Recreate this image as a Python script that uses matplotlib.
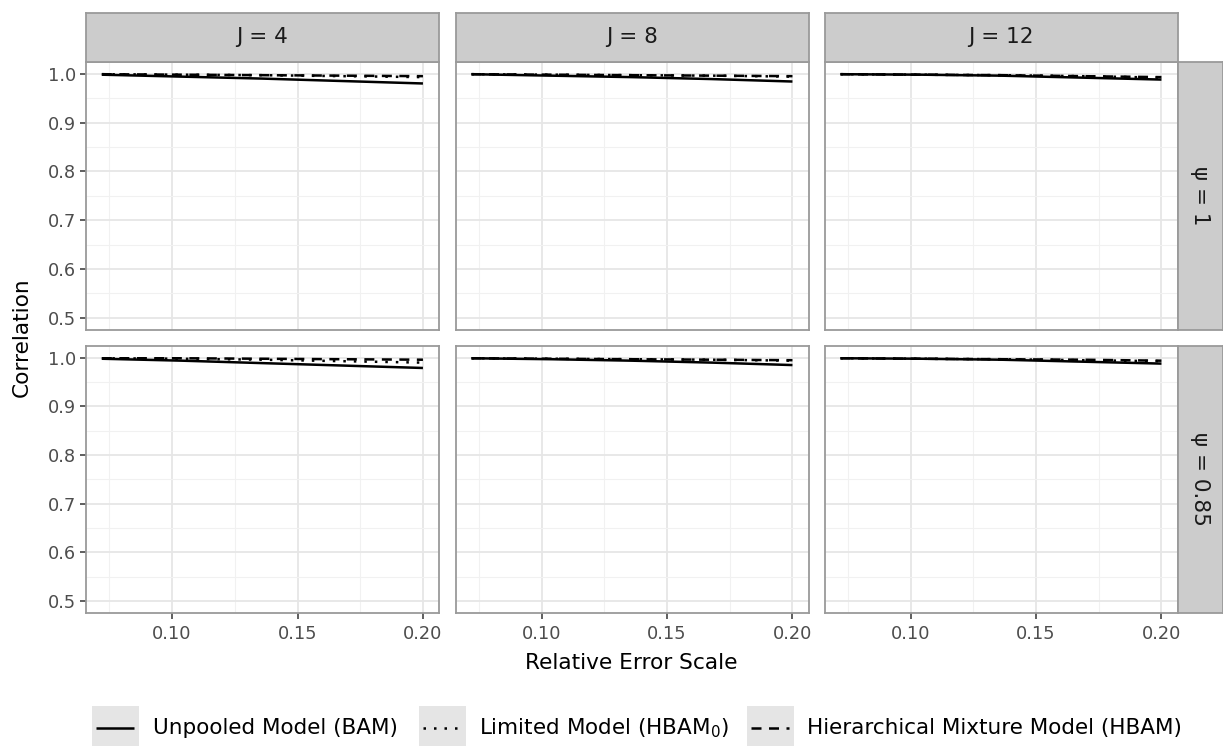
import matplotlib
matplotlib.use('Agg')
import matplotlib.pyplot as plt
from matplotlib.patches import Rectangle
from matplotlib.lines import Line2D

plt.rcParams['font.family'] = ['DejaVu Sans']
plt.rcParams['mathtext.fontset'] = 'dejavusans'

# данные: ось x общая для всех панелей
error_scale = [0.072, 0.104, 0.136, 0.168, 0.2]

col_labels = ['J = 4', 'J = 8', 'J = 12']
row_labels = ['ψ = 1', 'ψ = 0.85']

# строки: psi = 1, psi = 0.85; столбцы: J = 4, 8, 12
bam = [
    [[0.998, 0.994, 0.990, 0.985, 0.980],
     [0.999, 0.996, 0.993, 0.989, 0.984],
     [0.999, 0.998, 0.996, 0.992, 0.988]],
    [[0.998, 0.994, 0.989, 0.984, 0.979],
     [0.999, 0.997, 0.994, 0.990, 0.985],
     [0.999, 0.998, 0.996, 0.992, 0.988]],
]
hbam0 = [
    [[0.999, 0.998, 0.997, 0.995, 0.993],
     [0.999, 0.998, 0.997, 0.996, 0.994],
     [0.999, 0.998, 0.997, 0.995, 0.992]],
    [[0.999, 0.998, 0.996, 0.993, 0.990],
     [0.999, 0.998, 0.997, 0.996, 0.994],
     [0.999, 0.998, 0.997, 0.995, 0.993]],
]
hbam = [
    [[0.999, 0.998, 0.997, 0.996, 0.995],
     [0.999, 0.998, 0.997, 0.996, 0.995],
     [0.999, 0.998, 0.997, 0.995, 0.993]],
    [[0.999, 0.999, 0.998, 0.997, 0.996],
     [0.999, 0.998, 0.997, 0.996, 0.995],
     [0.999, 0.998, 0.997, 0.996, 0.994]],
]

series = [
    ('Unpooled Model (BAM)', bam, (None, None)),
    ('Limited Model (HBAM$_0$)', hbam0, (1, 3.2)),
    ('Hierarchical Mixture Model (HBAM)', hbam, (4, 3)),
]

W, H = 1223, 746
fig = plt.figure(figsize=(W / 100, H / 100), dpi=100)


def box(x0, y0, x1, y1):
    # пиксели (сверху вниз) -> доли фигуры
    return [x0 / W, 1 - y1 / H, (x1 - x0) / W, (y1 - y0) / H]


col_x = [(85.8, 439.0), (455.5, 808.5), (824.5, 1177.5)]
row_y = [(61.8, 329.7), (345.9, 612.8)]
border = '#9a9a9a'
strip_fill = '#cccccc'
LW = 1.8

for r in range(2):
    for c in range(3):
        ax = fig.add_axes(box(col_x[c][0], row_y[r][0], col_x[c][1], row_y[r][1]))
        ax.set_xlim(0.0656, 0.2064)
        ax.set_ylim(0.4756, 1.0244)
        ax.set_xticks([0.10, 0.15, 0.20])
        ax.set_xticks([0.075, 0.125, 0.175], minor=True)
        ax.set_yticks([0.5, 0.6, 0.7, 0.8, 0.9, 1.0])
        ax.set_yticks([0.55, 0.65, 0.75, 0.85, 0.95], minor=True)
        ax.grid(True, which='major', color='#e6e6e6', lw=1.3)
        ax.grid(True, which='minor', color='#f1f1f1', lw=0.8)
        ax.set_axisbelow(True)
        for s in ax.spines.values():
            s.set_color(border)
            s.set_linewidth(1.3)
        ax.tick_params(which='minor', length=0)
        ax.tick_params(which='major', length=4, width=1.1, color='#333333',
                       labelsize=12.8, labelcolor='#4d4d4d')
        ax.tick_params(axis='x', pad=5)
        ax.tick_params(axis='y', pad=3)
        ax.set_xticklabels(['0.10', '0.15', '0.20'])
        ax.set_yticklabels(['0.5', '0.6', '0.7', '0.8', '0.9', '1.0'])
        if r == 0:
            ax.tick_params(axis='x', length=0, labelbottom=False)
        if c > 0:
            ax.tick_params(axis='y', length=0, labelleft=False)

        for name, vals, dash in series:
            ln, = ax.plot(error_scale, vals[r][c], color='black', lw=LW,
                          solid_capstyle='butt', dash_capstyle='butt')
            if dash[0] is not None:
                ln.set_dashes(dash)

# полосы фасетов сверху
for c in range(3):
    sa = fig.add_axes(box(col_x[c][0], 12.8, col_x[c][1], 61.8))
    sa.set_facecolor(strip_fill)
    sa.set_xticks([])
    sa.set_yticks([])
    for s in sa.spines.values():
        s.set_color(border)
        s.set_linewidth(1.3)
    sa.text(0.5, 0.5, col_labels[c], ha='center', va='center', fontsize=15.5,
            color='#1a1a1a', transform=sa.transAxes)

# полосы фасетов справа
for r in range(2):
    sa = fig.add_axes(box(1177.5, row_y[r][0], 1222.5, row_y[r][1]))
    sa.set_facecolor(strip_fill)
    sa.set_xticks([])
    sa.set_yticks([])
    for s in sa.spines.values():
        s.set_color(border)
        s.set_linewidth(1.3)
    sa.text(0.5, 0.5, row_labels[r], ha='center', va='center', fontsize=15.5,
            color='#1a1a1a', rotation=-90, transform=sa.transAxes)

fig.text(631 / W, 1 - 663 / H, 'Relative Error Scale', ha='center', va='center',
         fontsize=15.6)
fig.text(22 / W, 1 - 337 / H, 'Correlation', ha='center', va='center',
         fontsize=15.6, rotation=90)

# легенда вручную
key_x = [92, 419, 747]
text_x = [153, 479, 807]
ky0, ky1 = 706, 746
for i, (name, vals, dash) in enumerate(series):
    fig.patches.append(Rectangle((key_x[i] / W, 1 - ky1 / H), 47 / W, (ky1 - ky0) / H,
                                 transform=fig.transFigure, facecolor='#e5e5e5',
                                 edgecolor='none'))
    yy = 1 - 728 / H
    ln = Line2D([(key_x[i] + 4) / W, (key_x[i] + 42) / W], [yy, yy],
                transform=fig.transFigure, color='black', lw=LW,
                solid_capstyle='butt', dash_capstyle='butt')
    if dash[0] is not None:
        ln.set_dashes(dash)
    fig.lines.append(ln)
    fig.text(text_x[i] / W, yy, name, ha='left', va='center', fontsize=15.5)

fig.savefig('out.png', dpi=100)
